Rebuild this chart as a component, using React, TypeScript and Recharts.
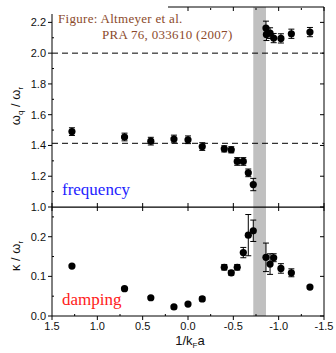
import React from 'react';
import {
    ScatterChart,
    Scatter,
    XAxis,
    YAxis,
    ErrorBar,
    ReferenceLine,
    ReferenceArea,
} from 'recharts';

// frequency panel (omega_q / omega_r)
const freqX = [1.28, 0.7, 0.41, 0.155, 0.0, -0.157, -0.4, -0.477, -0.543, -0.61, -0.665, -0.72, -0.86, -0.865, -0.905, -0.945, -1.025, -1.14, -1.345];
const freqY = [1.49, 1.455, 1.428, 1.442, 1.437, 1.393, 1.378, 1.372, 1.296, 1.296, 1.222, 1.146, 2.163, 2.122, 2.13, 2.098, 2.096, 2.126, 2.137];
const freqErr = [0.025, 0.025, 0.025, 0.025, 0.025, 0.025, 0.02, 0.02, 0.025, 0.025, 0.025, 0.04, 0.045, 0.04, 0.035, 0.03, 0.03, 0.03, 0.03];

// damping panel (kappa / omega_r)
const dampX = [1.28, 0.7, 0.41, 0.155, 0.0, -0.157, -0.4, -0.477, -0.543, -0.61, -0.665, -0.72, -0.86, -0.905, -0.945, -1.025, -1.14, -1.345];
const dampY = [0.126, 0.069, 0.046, 0.023, 0.03, 0.043, 0.123, 0.109, 0.123, 0.16, 0.204, 0.215, 0.148, 0.131, 0.147, 0.12, 0.109, 0.073];
const dampErr = [0.003, 0.003, 0.003, 0.003, 0.003, 0.005, 0.007, 0.006, 0.007, 0.013, 0.052, 0.027, 0.036, 0.026, 0.01, 0.012, 0.01, 0.004];

const xTicks = [1.5, 1.0, 0.5, 0.0, -0.5, -1.0, -1.5];
const xMinorTicks = [1.25, 0.75, 0.25, -0.25, -0.75, -1.25];
const freqTicks = [1.0, 1.2, 1.4, 1.6, 1.8, 2.0, 2.2];
const freqMinorTicks = [1.1, 1.3, 1.5, 1.7, 1.9, 2.1];
const dampTicks = [0.0, 0.1, 0.2];
const dampMinorTicks = [0.05, 0.15, 0.25];

// crossover region and reference levels
const bandX = [-0.86, -0.72];
const refLevels = [2.0, 1.414];

const freqDomain = [1.0, 2.3];
const dampDomain = [0, 0.275];

const freqData = freqX.map((x, i) => ({ x, y: freqY[i], err: freqErr[i] }));
const dampData = dampX.map((x, i) => ({ x, y: dampY[i], err: dampErr[i] }));

const tickFont = { fontSize: 11, fill: '#111', fontFamily: 'Liberation Sans, Arial, sans-serif' };
const none = () => '';
const fmt = (v: number) => v.toFixed(1);

const Dot = (props: any) => <circle cx={props.cx} cy={props.cy} r={3.6} fill="#000" />;

const serif = 'Liberation Serif, Times New Roman, serif';

const App = () => {
    return (
        <div style={{ position: 'absolute', left: 0, top: 0, width: 336, height: 353, background: '#fff', fontFamily: 'Liberation Sans, Arial, sans-serif' }}>
            <div style={{ position: 'absolute', left: 0, top: 207 }}>
                <ScatterChart width={336} height={146} margin={{ top: 0, right: 12, bottom: 0, left: 0 }}>
                    <XAxis xAxisId="b" type="number" dataKey="x" domain={[-1.5, 1.5]} reversed ticks={xTicks} height={37} tickSize={4} tick={tickFont} tickFormatter={fmt} stroke="#000" allowDataOverflow />
                    <XAxis xAxisId="t" orientation="top" type="number" dataKey="x" domain={[-1.5, 1.5]} reversed ticks={xTicks} height={1} mirror tickSize={4} tickFormatter={none} stroke="#000" allowDataOverflow />
                    <XAxis xAxisId="bm" type="number" dataKey="x" domain={[-1.5, 1.5]} reversed ticks={xMinorTicks} height={1} mirror axisLine={false} tickSize={2} tickFormatter={none} stroke="#000" allowDataOverflow />
                    <YAxis yAxisId="m" type="number" dataKey="y" domain={dampDomain} ticks={dampMinorTicks} width={1} mirror axisLine={false} tickSize={2} tickFormatter={none} stroke="#000" allowDataOverflow />
                    <YAxis yAxisId="l" type="number" dataKey="y" domain={dampDomain} ticks={dampTicks} width={52} tickSize={4} tick={tickFont} tickFormatter={fmt} stroke="#000" allowDataOverflow />
                    <YAxis yAxisId="r" orientation="right" type="number" dataKey="y" domain={dampDomain} ticks={dampTicks} width={1} mirror tickSize={4} tickFormatter={none} stroke="#000" allowDataOverflow />
                    <ReferenceArea xAxisId="b" yAxisId="l" x1={bandX[0]} x2={bandX[1]} y1={dampDomain[0]} y2={dampDomain[1]} fill="#c0c0c0" fillOpacity={1} stroke="none" ifOverflow="hidden" />
                    <Scatter xAxisId="b" yAxisId="l" data={dampData} shape={Dot} isAnimationActive={false}>
                        <ErrorBar dataKey="err" direction="y" width={3} stroke="#000" strokeWidth={1} />
                    </Scatter>
                    <Scatter xAxisId="t" yAxisId="m" data={[]} isAnimationActive={false} />
                    <Scatter xAxisId="bm" yAxisId="r" data={[]} isAnimationActive={false} />
                </ScatterChart>
            </div>
            <div style={{ position: 'absolute', left: 0, top: 0 }}>
                <ScatterChart width={336} height={216} margin={{ top: 7, right: 12, bottom: 9, left: 0 }}>
                    <XAxis xAxisId="b" type="number" dataKey="x" domain={[-1.5, 1.5]} reversed ticks={xTicks} height={1} mirror tickSize={4} tickFormatter={none} stroke="#000" allowDataOverflow />
                    <XAxis xAxisId="t" orientation="top" type="number" dataKey="x" domain={[-1.5, 1.5]} reversed ticks={xTicks} height={1} mirror tickSize={4} tickFormatter={none} stroke="#000" allowDataOverflow />
                    <XAxis xAxisId="tm" orientation="top" type="number" dataKey="x" domain={[-1.5, 1.5]} reversed ticks={xMinorTicks} height={1} mirror axisLine={false} tickSize={2} tickFormatter={none} stroke="#000" allowDataOverflow />
                    <YAxis yAxisId="m" type="number" dataKey="y" domain={freqDomain} ticks={freqMinorTicks} width={1} mirror axisLine={false} tickSize={2} tickFormatter={none} stroke="#000" allowDataOverflow />
                    <YAxis yAxisId="l" type="number" dataKey="y" domain={freqDomain} ticks={freqTicks} width={52} tickSize={4} tick={tickFont} tickFormatter={fmt} stroke="#000" allowDataOverflow />
                    <YAxis yAxisId="r" orientation="right" type="number" dataKey="y" domain={freqDomain} ticks={freqTicks} width={1} mirror tickSize={4} tickFormatter={none} stroke="#000" allowDataOverflow />
                    <ReferenceArea xAxisId="b" yAxisId="l" x1={bandX[0]} x2={bandX[1]} y1={freqDomain[0]} y2={freqDomain[1]} fill="#c0c0c0" fillOpacity={1} stroke="none" ifOverflow="hidden" />
                    {refLevels.map((v) => (
                        <ReferenceLine key={v} xAxisId="b" yAxisId="l" y={v} stroke="#000" strokeDasharray="6 4" />
                    ))}
                    <Scatter xAxisId="b" yAxisId="l" data={freqData} shape={Dot} isAnimationActive={false}>
                        <ErrorBar dataKey="err" direction="y" width={3} stroke="#000" strokeWidth={1} />
                    </Scatter>
                    <Scatter xAxisId="t" yAxisId="m" data={[]} isAnimationActive={false} />
                    <Scatter xAxisId="tm" yAxisId="r" data={[]} isAnimationActive={false} />
                </ScatterChart>
            </div>

            {/* the annotation box is opaque and hides the top-left corner of the frame */}
            <div style={{ position: 'absolute', left: 44, top: 0, width: 124, height: 14, background: '#fff' }} />
            <div style={{ position: 'absolute', left: 58, top: 11, fontFamily: serif, fontSize: 13, letterSpacing: 0.3, color: '#8b4a2b', lineHeight: '16px', whiteSpace: 'nowrap' }}>
                Figure: Altmeyer et al.
                <br />
                <span style={{ marginLeft: 44 }}>PRA 76, 033610 (2007)</span>
            </div>
            <div style={{ position: 'absolute', left: 62, top: 180, fontFamily: serif, fontSize: 17, lineHeight: '20px', color: '#2323ff', whiteSpace: 'nowrap' }}>
                frequency
            </div>
            <div style={{ position: 'absolute', left: 62, top: 290, fontFamily: serif, fontSize: 17, lineHeight: '20px', color: '#ff2020', whiteSpace: 'nowrap' }}>
                damping
            </div>

            <div style={{ position: 'absolute', left: 15, top: 106, transform: 'translate(-50%, -50%) rotate(-90deg)', fontSize: 13, lineHeight: '15px', whiteSpace: 'nowrap', color: '#111' }}>
                ω<sub style={{ fontSize: 8, lineHeight: 0 }}>q</sub> / ω<sub style={{ fontSize: 8, lineHeight: 0 }}>r</sub>
            </div>
            <div style={{ position: 'absolute', left: 15, top: 256, transform: 'translate(-50%, -50%) rotate(-90deg)', fontSize: 13, lineHeight: '15px', whiteSpace: 'nowrap', color: '#111' }}>
                κ / ω<sub style={{ fontSize: 8, lineHeight: 0 }}>r</sub>
            </div>
            <div style={{ position: 'absolute', left: 190, top: 340, transform: 'translate(-50%, -50%)', fontSize: 13, lineHeight: '15px', whiteSpace: 'nowrap', color: '#111' }}>
                1/k<sub style={{ fontSize: 8, lineHeight: 0 }}>F</sub>a
            </div>
        </div>
    );
};

export default App;
